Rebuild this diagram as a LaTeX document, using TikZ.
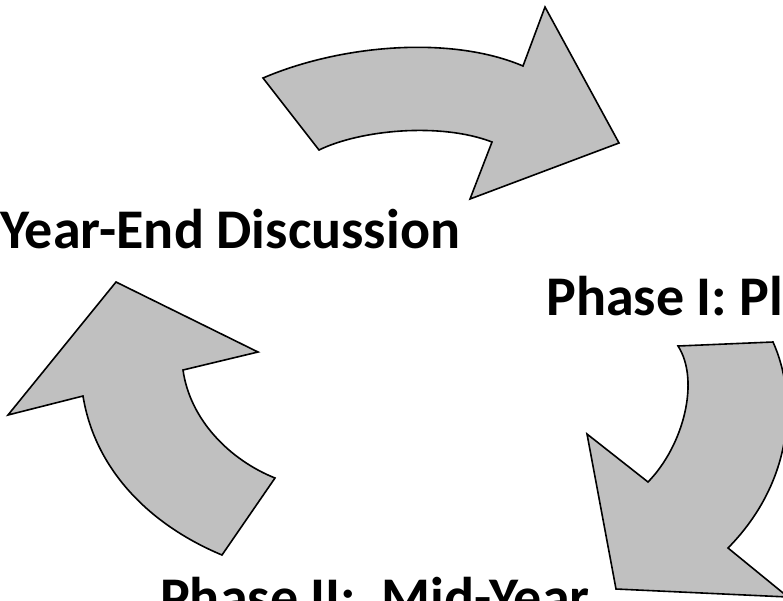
\documentclass[tikz,border=0pt]{standalone}
\usepackage{fontspec}
\setmainfont{Carlito}
\usetikzlibrary{positioning}
\definecolor{arrowgray}{RGB}{192,192,192}
\tikzset{
    cyclearrow/.style={fill=arrowgray, draw=black, line width=1.6pt, line join=miter},
    phaselabel/.style={inner sep=0pt, anchor=base west, font=\fontsize{56}{67}\selectfont\bfseries}
}

\begin{document}
\begin{tikzpicture}[x=1pt, y=-1pt]

    \useasboundingbox (0,0) rectangle (783,600);
    \clip (0,0) rectangle (783,600);

    %% Cycle arrows

    % Top arrow
    \draw[cyclearrow] (263,78) -- (319,150)
        .. controls (360,130) and (440,122) .. (492,142)
        -- (470,199) -- (619,143) -- (545,7) -- (523,66)
        .. controls (450,35) and (340,45) .. cycle;

    % Right arrow
    \draw[cyclearrow] (678,346) -- (773,342)
        .. controls (797,395) and (795,480) .. (728,548)
        -- (788,597) -- (616,589) -- (587,434) -- (648,482)
        .. controls (684,445) and (700,380) .. cycle;

    % Left arrow
    \draw[cyclearrow] (116,282) -- (258,352) -- (183,370)
        .. controls (190,420) and (230,460) .. (275,478)
        -- (222,555)
        .. controls (150,525) and (95,470) .. (83,396)
        -- (8,415) -- cycle;

    %% Labels
    \node[phaselabel] (yearend) at (0,248) {Year-End Discussion};
    \node[phaselabel] (planning) at (546,315) {Phase I: Pla};
    \node[phaselabel] (midyear) at (160,616) {Phase II:\ \ Mid-Year};

\end{tikzpicture}
\end{document}
